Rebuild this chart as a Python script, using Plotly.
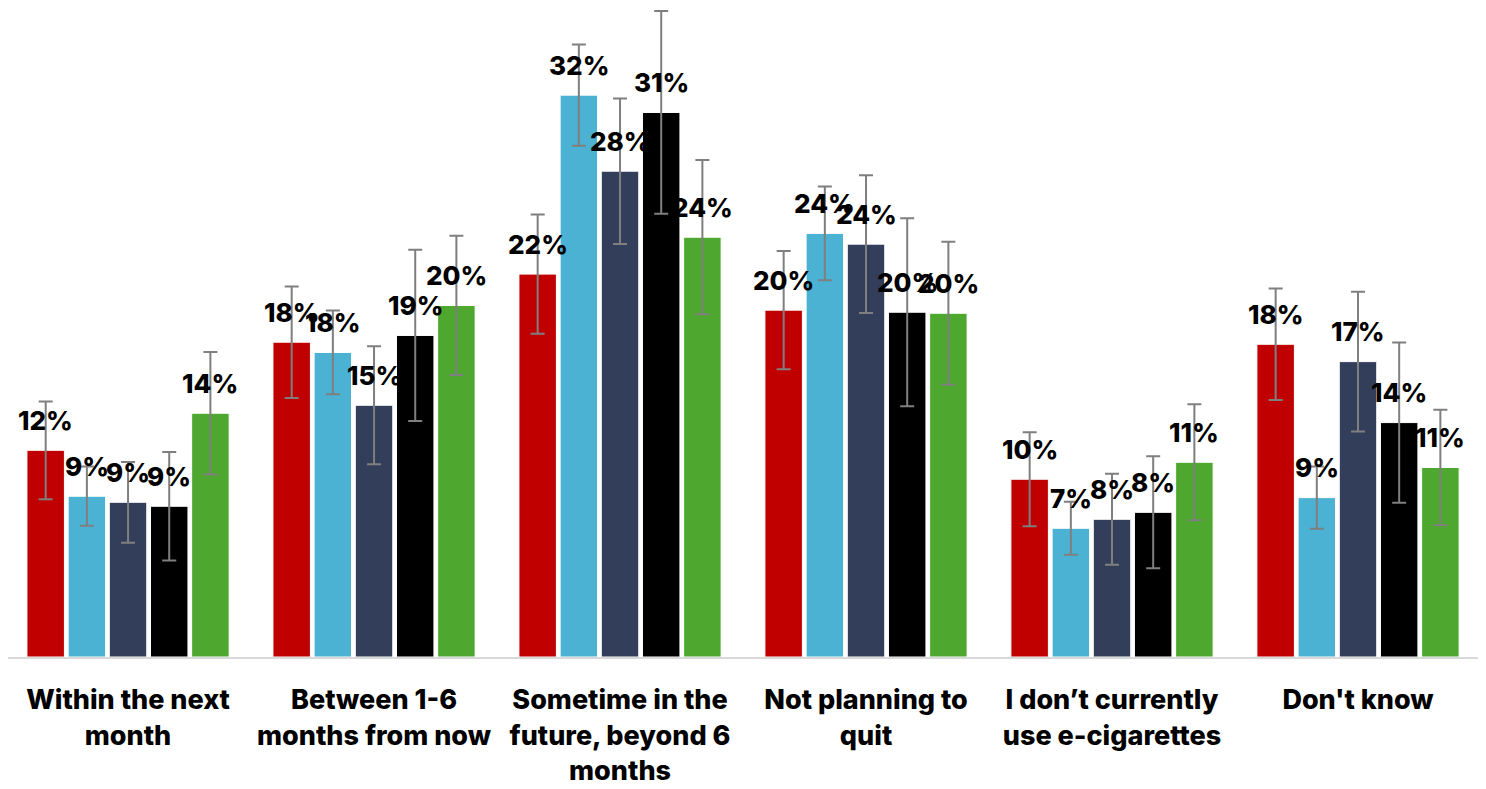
import plotly.graph_objects as go

# categories and series (percent)
categories = [
    "Within the next<br>month",
    "Between 1-6<br>months from now",
    "Sometime in the<br>future, beyond 6<br>months",
    "Not planning to<br>quit",
    "I don’t currently<br>use e-cigarettes",
    "Don't know",
]

series_colors = ["#C00000", "#4BB2D3", "#333F5A", "#000000", "#4EA72E"]

values = [
    [11.93, 18.17, 22.10, 20.02, 10.26, 18.05],
    [9.28, 17.58, 32.43, 24.45, 7.43, 9.20],
    [8.93, 14.53, 28.04, 23.83, 7.95, 17.05],
    [8.70, 18.56, 31.43, 19.90, 8.35, 13.53],
    [14.07, 20.29, 24.23, 19.84, 11.24, 10.94],
]

errors = [
    [2.82, 3.22, 3.44, 3.41, 2.71, 3.22],
    [1.71, 2.42, 2.92, 2.71, 1.53, 1.80],
    [2.33, 3.40, 4.20, 3.98, 2.63, 4.03],
    [3.13, 4.94, 5.85, 5.43, 3.23, 4.62],
    [3.54, 4.02, 4.45, 4.13, 3.35, 3.33],
]

FONT = "Inter"
BARGAP = 0.163
n_series = len(values)
slot = (1 - BARGAP) / n_series

fig = go.Figure()
annotations = []
for j, (vals, errs, color) in enumerate(zip(values, errors, series_colors)):
    fig.add_trace(go.Bar(
        x=list(range(len(categories))), y=vals,
        marker={"color": color, "line": {"color": "white", "width": 1}},
        error_y={"type": "data", "array": errs, "visible": True,
                 "color": "#7F7F7F", "thickness": 2, "width": 7},
        showlegend=False,
    ))
    for i, v in enumerate(vals):
        annotations.append(dict(
            x=i + (j - (n_series - 1) / 2) * slot, y=v,
            xref="x", yref="y", text=f"{round(v)}%", showarrow=False,
            yanchor="middle", yshift=30,
            font={"family": FONT, "size": 26, "color": "black", "weight": 800},
        ))

# page body adds an 8px offset, so the figure is sized to fit the window
fig.update_layout(
    barmode="group", bargap=BARGAP, bargroupgap=0.09,
    width=1478, height=781,
    margin={"l": 0, "r": 5, "t": 0, "b": 132},
    plot_bgcolor="white", paper_bgcolor="white",
    annotations=annotations,
    font={"family": FONT},
)
fig.update_xaxes(
    tickmode="array", tickvals=list(range(len(categories))), ticktext=categories,
    tickfont={"family": FONT, "size": 27, "color": "black", "weight": 800},
    showline=True, linecolor="#D9D9D9", linewidth=2,
    ticks="", showgrid=False, ticklabelstandoff=18,
    range=[-0.488, len(categories) - 0.5],
)
fig.update_yaxes(visible=False, range=[0, 37.46], showgrid=False)

fig.write_html("out.html")
